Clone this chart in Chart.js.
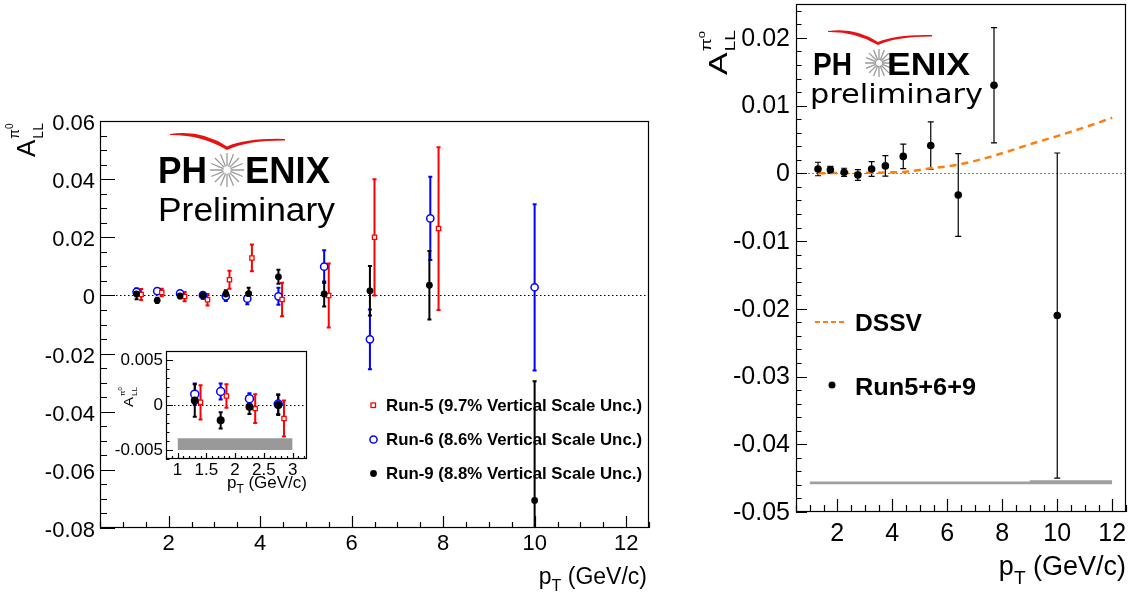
<!DOCTYPE html>
<html>
<head>
<meta charset="utf-8">
<script src="https://cdn.jsdelivr.net/npm/chart.js@4/dist/chart.umd.min.js"></script>
<style>
    body { margin: 0; background: #fff; width: 1138px; height: 601px; position: relative; overflow: hidden; }
    canvas { position: absolute; }
    #leftChart { left: 0; top: 0; }
    #insetChart { left: 110px; top: 345px; }
    #rightChart { left: 690px; top: 0; }
</style>
</head>
<body>
<canvas id="leftChart" width="660" height="601"></canvas>
<canvas id="insetChart" width="205" height="155"></canvas>
<canvas id="rightChart" width="448" height="601"></canvas>
<script>
// ---- Data ----

// Run-5 (red open squares)
const run5Pt = [1.4, 1.85, 2.35, 2.85, 3.33, 3.82, 4.48, 5.5, 6.5, 7.9];
const run5A = [0.0003, 0.0010, -0.0004, -0.0015, 0.0054, 0.0129, -0.0014, 0.0000, 0.0200, 0.0230];
const run5Err = [0.0019, 0.0013, 0.0016, 0.0020, 0.0031, 0.0046, 0.0058, 0.0110, 0.0200, 0.0280];

// Run-6 (blue open circles)
const run6Pt = [1.3, 1.75, 2.25, 2.75, 3.25, 3.72, 4.4, 5.4, 6.4, 7.72, 10.0];
const run6A = [0.0012, 0.0015, 0.0007, 0.0001, -0.0003, -0.0011, -0.0003, 0.0099, -0.0151, 0.0265, 0.0028];
const run6Err = [0.0012, 0.0009, 0.0006, 0.0011, 0.0016, 0.0019, 0.0029, 0.0056, 0.0103, 0.0143, 0.0286];

// Run-9 (black filled circles)
const run9Pt = [1.3, 1.75, 2.25, 2.75, 3.25, 3.75, 4.4, 5.4, 6.4, 7.7, 10.0];
const run9A = [0.0005, -0.0017, -0.0002, 0.0000, 0.0005, 0.0006, 0.0064, 0.0005, 0.0016, 0.0035, -0.0705];
const run9Err = [0.0018, 0.0009, 0.0008, 0.0011, 0.0013, 0.0020, 0.0024, 0.0043, 0.0085, 0.0118, 0.0410];

// Inset scale uncertainty band
const insetBandPt = [1.0, 3.0];
const insetBandHi = [-0.0037, -0.0037];
const insetBandLo = [-0.0050, -0.0050];

// Combined Run5+6+9 (right panel)
const combPt = [1.3, 1.75, 2.25, 2.75, 3.25, 3.75, 4.4, 5.4, 6.4, 7.7, 10.0];
const combA = [0.00064, 0.00054, 0.00015, -0.00025, 0.00064, 0.0011, 0.0025, 0.0041, -0.0032, 0.0130, -0.0210];
const combErr = [0.0010, 0.0005, 0.0006, 0.0008, 0.0011, 0.0015, 0.0018, 0.0035, 0.0061, 0.0085, 0.0240];

// DSSV expectation
const dssvPt = [1.3, 2.0, 3.0, 4.0, 4.5, 5.4, 6.4, 7.7, 9.1, 10.0, 11.0, 12.0];
const dssvA = [0.00002, 0.00004, 0.00008, 0.00015, 0.00025, 0.00074, 0.00127, 0.0026, 0.0044, 0.0055, 0.0068, 0.0082];

// Right panel scale uncertainty band
const bandPt = [1.0, 9.0, 9.0, 12.0];
const bandHi = [-0.0455, -0.0455, -0.0453, -0.0453];
const bandLo = [-0.0459, -0.0459, -0.0459, -0.0459];

// Tick labels
const leftXTicks = [2, 4, 6, 8, 10, 12];
const leftYTicks = [-0.08, -0.06, -0.04, -0.02, 0, 0.02, 0.04, 0.06];
const insetXTicks = [1, 1.5, 2, 2.5, 3];
const insetYTicks = [-0.005, 0, 0.005];
const rightXTicks = [2, 4, 6, 8, 10, 12];
const rightYTicks = [-0.05, -0.04, -0.03, -0.02, -0.01, 0, 0.01, 0.02];

const FONT = "'Liberation Sans', Arial, Helvetica, sans-serif";
Chart.defaults.font.family = FONT;
Chart.defaults.color = '#000';

// ---- helpers ----
function pts(xs, ys) {
    return xs.map((x, i) => ({ x: x, y: ys[i] }));
}

function fmt(v) {
    return Math.abs(v) < 1e-12 ? '0' : String(parseFloat(v.toFixed(6)));
}

function stepValues(min, max, step) {
    const out = [];
    for (let k = Math.ceil(min / step - 1e-6); k * step <= max + step * 1e-6; k++) out.push(k * step);
    return out;
}

// draw text squeezed/stretched to a given width
function fitText(ctx, text, x, y, w) {
    const natural = ctx.measureText(text).width;
    ctx.save();
    ctx.translate(x, y);
    ctx.scale(w / natural, 1);
    ctx.textAlign = 'left';
    ctx.fillText(text, 0, 0);
    ctx.restore();
}

// p_T (GeV/c), right aligned
function drawPtTitle(ctx, xRight, base, size) {
    ctx.save();
    ctx.fillStyle = '#000';
    ctx.textAlign = 'left';
    ctx.font = size + 'px ' + FONT;
    const wp = ctx.measureText('p').width;
    const wr = ctx.measureText(' (GeV/c)').width;
    ctx.font = Math.round(size * 0.7) + 'px ' + FONT;
    const wt = ctx.measureText('T').width;
    const x0 = xRight - (wp + wt + wr);
    ctx.font = size + 'px ' + FONT;
    ctx.fillText('p', x0, base);
    ctx.fillText(' (GeV/c)', x0 + wp + wt, base);
    ctx.font = Math.round(size * 0.7) + 'px ' + FONT;
    ctx.fillText('T', x0 + wp, base + size * 0.32);
    ctx.restore();
}

// rotated A_LL^{pi0}
function drawALL(ctx, cx, cy, size, squish) {
    ctx.save();
    ctx.fillStyle = '#000';
    ctx.translate(cx, cy);
    ctx.rotate(-Math.PI / 2);
    ctx.scale(1, squish);
    ctx.textAlign = 'left';
    ctx.font = size + 'px ' + FONT;
    ctx.fillText('A', 0, 0);
    const wA = ctx.measureText('A').width;
    const small = Math.round(size * 0.55);
    ctx.font = small + 'px ' + FONT;
    ctx.fillText('LL', wA + 1, small * 0.55);
    ctx.fillText('\u03C0', wA + 1, -size * 0.62);
    const wPi = ctx.measureText('\u03C0').width;
    ctx.font = Math.round(small * 0.7) + 'px ' + FONT;
    ctx.fillText('0', wA + 1 + wPi, -size * 0.62 - small * 0.45);
    ctx.restore();
}

// PHENIX logo: swoosh, PH + star + ENIX, preliminary
function drawLogo(ctx, o) {
    ctx.save();
    // red swoosh
    const [x0, y0] = o.sw0, [xd, yd] = o.swd, [x1, y1] = o.sw1;
    const c1x = x0 + (xd - x0) * 0.55, c2x = xd + (x1 - xd) * 0.35;
    ctx.fillStyle = '#e81010';
    ctx.beginPath();
    ctx.moveTo(x0, y0);
    ctx.quadraticCurveTo(c1x, y0 - o.th * 1.3, xd, yd - o.th);
    ctx.quadraticCurveTo(c2x, y1 - o.th * 0.6, x1, y1 - o.th * 0.3);
    ctx.lineTo(x1, y1 + o.th * 0.15);
    ctx.quadraticCurveTo(c2x, y1 + o.th * 0.1, xd, yd);
    ctx.quadraticCurveTo(c1x, y0 + o.th * 0.2, x0, y0 + 1);
    ctx.closePath();
    ctx.fill();
    // star
    ctx.strokeStyle = '#9a9a9a';
    ctx.lineWidth = 1.3;
    ctx.beginPath();
    for (let k = 0; k < 16; k++) {
        const a = k * Math.PI / 8;
        ctx.moveTo(o.star[0] + Math.cos(a) * o.r * 0.22, o.star[1] + Math.sin(a) * o.r * 0.22);
        ctx.lineTo(o.star[0] + Math.cos(a) * o.r, o.star[1] + Math.sin(a) * o.r);
    }
    ctx.stroke();
    // lettering
    ctx.fillStyle = '#000';
    ctx.font = o.boldFont;
    fitText(ctx, 'PH', o.ph[0], o.base, o.ph[1]);
    fitText(ctx, 'ENIX', o.enix[0], o.base, o.enix[1]);
    ctx.font = o.subFont;
    fitText(ctx, o.sub, o.subPos[0], o.subPos[2], o.subPos[1]);
    ctx.restore();
}

// ---- plugins ----

// error bars with small caps, drawn through the chart scales
const errorBars = {
    id: 'errorBars',
    beforeDatasetsDraw(chart) {
        const { ctx, chartArea: a, scales: { x, y } } = chart;
        ctx.save();
        ctx.beginPath();
        ctx.rect(a.left, a.top, a.width, a.height);
        ctx.clip();
        chart.data.datasets.forEach((ds) => {
            if (!ds.errors) return;
            ctx.strokeStyle = ds.borderColor;
            ctx.lineWidth = ds.errWidth;
            const cap = ds.errCap;
            ds.data.forEach((p, j) => {
                const px = x.getPixelForValue(p.x);
                const yt = y.getPixelForValue(p.y + ds.errors[j]);
                const yb = y.getPixelForValue(p.y - ds.errors[j]);
                ctx.beginPath();
                ctx.moveTo(px, yt); ctx.lineTo(px, yb);
                ctx.moveTo(px - cap, yt); ctx.lineTo(px + cap, yt);
                ctx.moveTo(px - cap, yb); ctx.lineTo(px + cap, yb);
                ctx.stroke();
            });
        });
        ctx.restore();
    }
};

// dotted zero line
const zeroLine = {
    id: 'zeroLine',
    beforeDatasetsDraw(chart, args, o) {
        const { ctx, chartArea: a, scales: { y } } = chart;
        const py = Math.round(y.getPixelForValue(0)) + 0.5;
        ctx.save();
        ctx.strokeStyle = o.color;
        ctx.lineWidth = 1;
        ctx.setLineDash(o.dash);
        ctx.beginPath();
        ctx.moveTo(a.left, py);
        ctx.lineTo(a.right, py);
        ctx.stroke();
        ctx.restore();
    }
};

// ROOT style frame with inward major and minor ticks
const rootFrame = {
    id: 'rootFrame',
    afterDatasetsDraw(chart, args, o) {
        const { ctx, chartArea: a, scales: { x, y } } = chart;
        ctx.save();
        ctx.strokeStyle = '#000';
        ctx.lineWidth = o.lineWidth;
        ctx.strokeRect(a.left + 0.5, a.top + 0.5, a.width - 1, a.height - 1);
        const xMaj = x.ticks.map(t => t.value), yMaj = y.ticks.map(t => t.value);
        const isMaj = (v, list, step) => list.some(m => Math.abs(m - v) < step / 10);
        ctx.beginPath();
        stepValues(x.min, x.max, o.xMinor).forEach(v => {
            const px = Math.round(x.getPixelForValue(v)) + 0.5;
            const len = isMaj(v, xMaj, o.xMinor) ? o.xMajLen : o.xMinLen;
            ctx.moveTo(px, a.bottom);
            ctx.lineTo(px, a.bottom - len);
        });
        stepValues(y.min, y.max, o.yMinor).forEach(v => {
            const py = Math.round(y.getPixelForValue(v)) + 0.5;
            const len = isMaj(v, yMaj, o.yMinor) ? o.yMajLen : o.yMinLen;
            ctx.moveTo(a.left, py);
            ctx.lineTo(a.left + len, py);
        });
        ctx.stroke();
        ctx.restore();
    }
};

// shared axis options
function axis(min, max, ticks, size, thickness, pad, isX, labelOffset) {
    return {
        type: 'linear', min: min, max: max,
        afterBuildTicks: s => { s.ticks = ticks.map(v => ({ value: v })); },
        afterFit: s => {
            if (isX) s.height = thickness; else s.width = thickness;
            s.paddingLeft = 0; s.paddingRight = 0; s.paddingTop = 0; s.paddingBottom = 0;
        },
        grid: { display: false, drawTicks: false },
        border: { display: false },
        ticks: { font: { size: size, family: FONT }, color: '#000', padding: pad, autoSkip: false, maxRotation: 0,
                 labelOffset: labelOffset || 0, callback: fmt }
    };
}

const baseOptions = {
    responsive: false,
    animation: false,
    events: [],
};

// ---- left panel ----
new Chart(document.getElementById('leftChart'), {
    type: 'scatter',
    data: {
        datasets: [
            { label: 'Run-6', data: pts(run6Pt, run6A), errors: run6Err, errWidth: 2, errCap: 2,
              borderColor: '#0000ff', backgroundColor: '#ffffff', pointStyle: 'circle', pointRadius: 3.6, borderWidth: 1.5, order: 3 },
            { label: 'Run-5', data: pts(run5Pt, run5A), errors: run5Err, errWidth: 2, errCap: 2,
              borderColor: '#ff0000', backgroundColor: '#ffffff', pointStyle: 'rect', pointRadius: 3, borderWidth: 1.3, order: 2 },
            { label: 'Run-9', data: pts(run9Pt, run9A), errors: run9Err, errWidth: 2, errCap: 2,
              borderColor: '#000000', backgroundColor: '#000000', pointStyle: 'circle', pointRadius: 3.4, borderWidth: 0, order: 1 }
        ]
    },
    options: {
        ...baseOptions,
        layout: { padding: { top: 121, right: 11, left: 0, bottom: 0 } },
        scales: {
            x: axis(0.5, 12.5, leftXTicks, 22, 73, 3, true),
            y: axis(-0.08, 0.06, leftYTicks, 22, 100, 5, false, 3)
        },
        plugins: {
            legend: { display: false }, tooltip: { enabled: false },
            zeroLine: { color: '#000', dash: [1.5, 2.5] },
            rootFrame: { lineWidth: 1.2, xMinor: 0.5, yMinor: 0.005, xMajLen: 12, xMinLen: 6, yMajLen: 15, yMinLen: 7 }
        }
    },
    plugins: [zeroLine, errorBars, rootFrame, {
        id: 'leftDecor',
        afterDraw(chart) {
            const ctx = chart.ctx;
            drawLogo(ctx, {
                sw0: [170, 134], swd: [227, 150], sw1: [285, 140], th: 3.5,
                star: [227, 170], r: 17,
                boldFont: 'bold 36px ' + FONT, base: 183, ph: [158, 49], enix: [245, 85],
                subFont: '33px ' + FONT, sub: 'Preliminary', subPos: [158, 177, 221]
            });
            // legend
            ctx.save();
            ctx.lineWidth = 1.3;
            ctx.strokeStyle = '#ff0000';
            ctx.strokeRect(371, 403, 4.5, 4.5);
            ctx.strokeStyle = '#0000ff';
            ctx.lineWidth = 1.5;
            ctx.beginPath(); ctx.arc(373.5, 439.5, 3.6, 0, Math.PI * 2); ctx.stroke();
            ctx.fillStyle = '#000';
            ctx.beginPath(); ctx.arc(373.5, 473.5, 3.4, 0, Math.PI * 2); ctx.fill();
            ctx.font = 'bold 17px ' + FONT;
            fitText(ctx, 'Run-5 (9.7% Vertical Scale Unc.)', 386, 411, 256);
            fitText(ctx, 'Run-6 (8.6% Vertical Scale Unc.)', 386, 445, 256);
            fitText(ctx, 'Run-9 (8.8% Vertical Scale Unc.)', 386, 479, 256);
            ctx.restore();
            drawALL(ctx, 35, 157, 26, 1.0);
            drawPtTitle(ctx, 647, 584, 23);
        }
    }]
});

// ---- inset (low pT zoom) ----
new Chart(document.getElementById('insetChart'), {
    type: 'scatter',
    data: {
        datasets: [
            { type: 'line', data: pts(insetBandPt, insetBandHi), borderWidth: 0, pointRadius: 0, fill: '+1', backgroundColor: '#999999', order: 10 },
            { type: 'line', data: pts(insetBandPt, insetBandLo), borderWidth: 0, pointRadius: 0, fill: false, order: 11 },
            { label: 'Run-6', data: pts(run6Pt.slice(0, 4), run6A.slice(0, 4)), errors: run6Err.slice(0, 4), errWidth: 2, errCap: 2,
              borderColor: '#0000ff', backgroundColor: '#ffffff', pointStyle: 'circle', pointRadius: 4, borderWidth: 1.5, order: 3 },
            { label: 'Run-5', data: pts(run5Pt.slice(0, 4), run5A.slice(0, 4)), errors: run5Err.slice(0, 4), errWidth: 2, errCap: 2,
              borderColor: '#ff0000', backgroundColor: '#ffffff', pointStyle: 'rect', pointRadius: 3, borderWidth: 1.3, order: 2 },
            { label: 'Run-9', data: pts(run9Pt.slice(0, 4), run9A.slice(0, 4)), errors: run9Err.slice(0, 4), errWidth: 2, errCap: 2,
              borderColor: '#000000', backgroundColor: '#000000', pointStyle: 'circle', pointRadius: 4, borderWidth: 0, order: 1 }
        ]
    },
    options: {
        ...baseOptions,
        layout: { padding: { top: 6, right: 8, left: 0, bottom: 0 } },
        scales: {
            x: axis(0.8, 3.25, insetXTicks, 17, 41, 1, true),
            y: axis(-0.006, 0.006, insetYTicks, 17, 56, 3, false)
        },
        plugins: {
            legend: { display: false }, tooltip: { enabled: false },
            zeroLine: { color: '#000', dash: [1.5, 2.5] },
            rootFrame: { lineWidth: 1.2, xMinor: 0.1, yMinor: 0.001, xMajLen: 6, xMinLen: 3, yMajLen: 7, yMinLen: 3.5 }
        }
    },
    plugins: [{
        id: 'insetBg',
        beforeDraw(chart) {
            const { ctx, chartArea: a } = chart;
            ctx.save();
            ctx.fillStyle = '#fff';
            ctx.fillRect(a.left, a.top, a.width, a.height);
            ctx.restore();
        }
    }, zeroLine, errorBars, rootFrame, {
        id: 'insetDecor',
        afterDraw(chart) {
            drawALL(chart.ctx, 23, 62, 15, 0.85);
            drawPtTitle(chart.ctx, 197, 143, 17);
        }
    }]
});

// ---- right panel (combined) ----
new Chart(document.getElementById('rightChart'), {
    type: 'scatter',
    data: {
        datasets: [
            { type: 'line', data: pts(bandPt, bandHi), borderWidth: 0, pointRadius: 0, fill: '+1', backgroundColor: '#a0a0a0', order: 10 },
            { type: 'line', data: pts(bandPt, bandLo), borderWidth: 0, pointRadius: 0, fill: false, order: 11 },
            { type: 'line', label: 'DSSV', data: pts(dssvPt, dssvA), borderColor: '#ff7f0e', borderDash: [7, 5], borderWidth: 2.5,
              pointRadius: 0, fill: false, cubicInterpolationMode: 'monotone', order: 5 },
            { label: 'Run5+6+9', data: pts(combPt, combA), errors: combErr, errWidth: 1.2, errCap: 3,
              borderColor: '#000000', backgroundColor: '#000000', pointStyle: 'circle', pointRadius: 3.8, borderWidth: 0, order: 1 }
        ]
    },
    options: {
        ...baseOptions,
        layout: { padding: { top: 3, right: 12, left: 0, bottom: 0 } },
        scales: {
            x: axis(0.5, 12.5, rightXTicks, 25, 89, 7, true),
            y: axis(-0.05, 0.025, rightYTicks, 25, 106, 6, false, 1)
        },
        plugins: {
            legend: { display: false }, tooltip: { enabled: false },
            zeroLine: { color: '#7b7bd6', dash: [2, 2] },
            rootFrame: { lineWidth: 1.2, xMinor: 0.5, yMinor: 0.002, xMajLen: 13, xMinLen: 7, yMajLen: 11, yMinLen: 5.5 }
        }
    },
    plugins: [zeroLine, errorBars, rootFrame, {
        id: 'rightDecor',
        afterDraw(chart) {
            const ctx = chart.ctx;
            drawLogo(ctx, {
                sw0: [138, 31], swd: [188, 45], sw1: [242, 36], th: 3,
                star: [189, 63], r: 14,
                boldFont: 'bold 32px ' + FONT, base: 75, ph: [123, 39], enix: [197, 83],
                subFont: "26px 'DejaVu Sans', " + FONT, sub: 'preliminary', subPos: [120, 173, 103]
            });
            // legend
            ctx.save();
            ctx.strokeStyle = '#ff7f0e';
            ctx.lineWidth = 2;
            ctx.setLineDash([5, 3]);
            ctx.beginPath(); ctx.moveTo(125, 322); ctx.lineTo(157, 322); ctx.stroke();
            ctx.setLineDash([]);
            ctx.fillStyle = '#000';
            ctx.beginPath(); ctx.arc(142, 385, 3.5, 0, Math.PI * 2); ctx.fill();
            ctx.font = 'bold 24px ' + FONT;
            fitText(ctx, 'DSSV', 165, 331, 67);
            fitText(ctx, 'Run5+6+9', 165, 395, 121);
            ctx.restore();
            drawALL(ctx, 37, 75, 34, 0.75);
            drawPtTitle(ctx, 436, 575, 27);
        }
    }]
});
</script>
</body>
</html>
